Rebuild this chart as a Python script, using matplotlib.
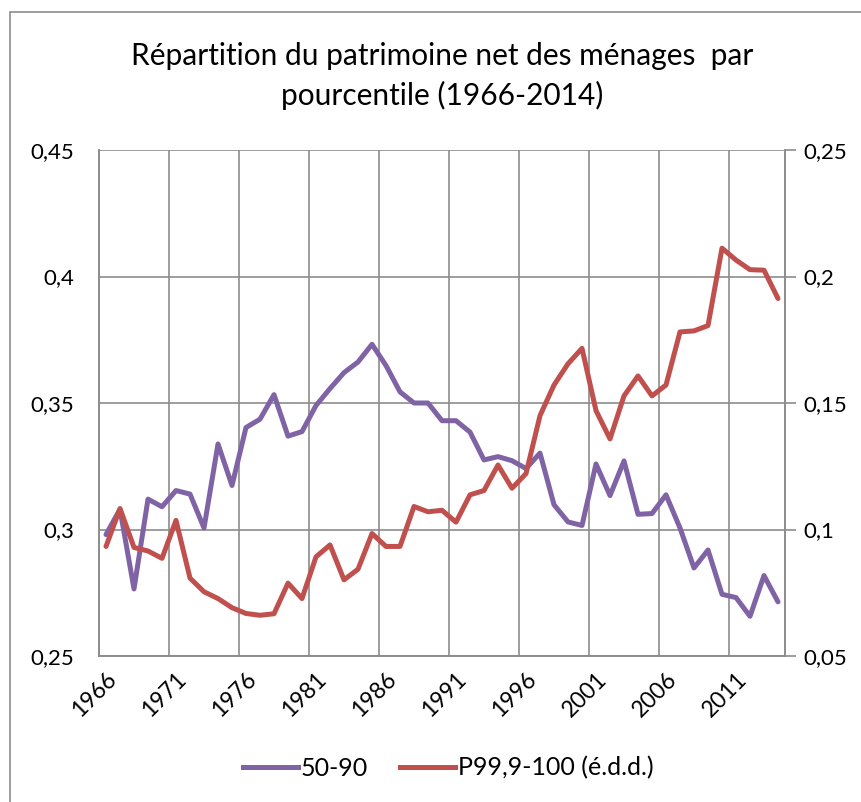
import numpy as np
import matplotlib
matplotlib.use("Agg")
from matplotlib import pyplot as plt
from matplotlib.patches import Rectangle

plt.rcParams['font.family'] = ['Lato', 'DejaVu Sans']

years = list(range(1966, 2015))

# 50-90 share (left axis)
p50_90 = [0.298, 0.308, 0.2765, 0.312, 0.309, 0.3154, 0.314, 0.3006, 0.3338, 0.3174,
          0.3403, 0.3436, 0.3533, 0.3369, 0.3387, 0.349, 0.3557, 0.362, 0.3662, 0.3732,
          0.3648, 0.3544, 0.350, 0.350, 0.343, 0.343, 0.3385, 0.3275, 0.3288, 0.3272,
          0.3241, 0.3302, 0.3098, 0.303, 0.3016, 0.3259, 0.3134, 0.3271, 0.306, 0.3063,
          0.3137, 0.3006, 0.2848, 0.2919, 0.2744, 0.2731, 0.2657, 0.2818, 0.2714]

# top 0.1% share (right axis)
p999_100 = [0.0933, 0.1083, 0.0929, 0.0915, 0.0886, 0.1036, 0.0808, 0.0754, 0.0727, 0.0691,
            0.0668, 0.0661, 0.0667, 0.0788, 0.0727, 0.0892, 0.0939, 0.0801, 0.0843, 0.0984,
            0.0933, 0.0933, 0.1091, 0.107, 0.1076, 0.1029, 0.1137, 0.1154, 0.1255, 0.1163,
            0.1221, 0.145, 0.1571, 0.1655, 0.1716, 0.147, 0.1358, 0.1528, 0.1607, 0.1528,
            0.1571, 0.1781, 0.1785, 0.1806, 0.2112, 0.2065, 0.2027, 0.2025, 0.1913]

left_ticks = [0.25, 0.30, 0.35, 0.40, 0.45]
left_labels = ['0,25', '0,3', '0,35', '0,4', '0,45']
right_ticks = [0.05, 0.10, 0.15, 0.20, 0.25]
right_labels = ['0,05', '0,1', '0,15', '0,2', '0,25']
year_labels = years[::5]

purple = '#7f63a5'
red = '#c0504d'
grid = '#8c8c8c'

fig = plt.figure(figsize=(8.61, 8.02), dpi=100)
ax = fig.add_axes([99 / 861, 1 - 656 / 802, 686 / 861, 506 / 802])
ax2 = ax.twinx()

# chart outline (cropped on right/bottom in original)
fig.patches.append(Rectangle((10 / 861, -0.1), 1.2, 1 - 12 / 802 + 0.1,
                             transform=fig.transFigure, fill=False,
                             edgecolor=grid, lw=1.2))

ax.set_xlim(1965.5, 2014.5)
ax.set_ylim(0.25, 0.45)
ax2.set_ylim(0.05, 0.25)

# vertical grid at category boundaries every 5 years
for b in np.arange(1970.5, 2014, 5):
    ax.axvline(b, color=grid, lw=1.2, zorder=0)
for t in left_ticks:
    ax.axhline(t, color=grid, lw=1.2, zorder=0)

ax.plot(years, p50_90, color=purple, lw=3.6, solid_capstyle='round', solid_joinstyle='round', zorder=3)
ax2.plot(years, p999_100, color=red, lw=3.6, solid_capstyle='round', solid_joinstyle='round', zorder=3)

for a in (ax, ax2):
    for s in a.spines.values():
        s.set_color(grid)
        s.set_linewidth(1.2)
    a.spines['top'].set_visible(False)

ax.set_yticks(left_ticks)
ax.set_yticklabels(left_labels, fontsize=16)
ax.tick_params(axis='y', length=0, pad=18)
ax2.set_yticks(right_ticks)
ax2.set_yticklabels(right_labels, fontsize=16)
ax2.tick_params(axis='y', length=8, color=grid, width=1.2, pad=5)

ax.set_xticks(year_labels)
ax.set_xticklabels([str(y) for y in year_labels], rotation=45, ha='right',
                   rotation_mode='anchor', fontsize=16.5)
ax.tick_params(axis='x', length=0, pad=9)

fig.text(442 / 861, 1 - 56 / 802, 'Répartition du patrimoine net des ménages  par',
         ha='center', va='center', fontsize=21.5)
fig.text(442 / 861, 1 - 95 / 802, 'pourcentile (1966-2014)',
         ha='center', va='center', fontsize=21.5)

h1, = ax.plot([], [], color=purple, lw=3.6, label='50-90')
h2, = ax.plot([], [], color=red, lw=3.6, label='P99,9-100 (é.d.d.)')
fig.legend(handles=[h1, h2], loc='center', bbox_to_anchor=(448 / 861, 1 - 768 / 802),
           ncol=2, frameon=False, fontsize=18, handlelength=2.2, handletextpad=0.1,
           columnspacing=1.3)

fig.savefig('out.png', dpi=100)
